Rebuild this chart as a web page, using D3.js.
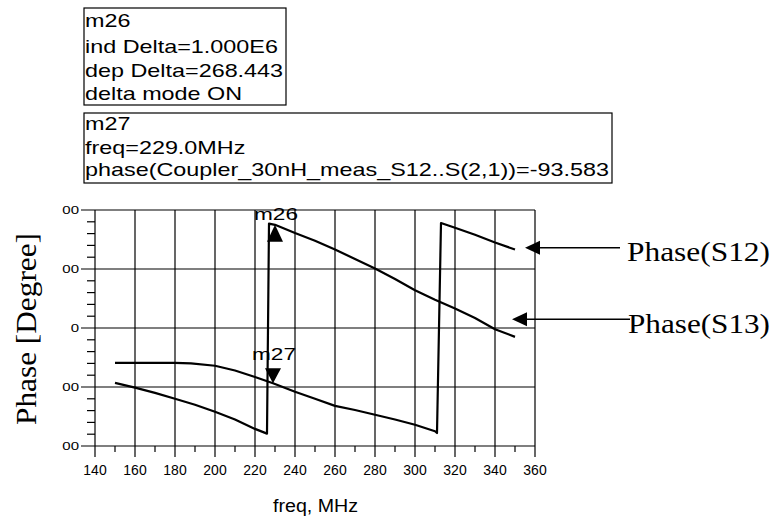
<!DOCTYPE html>
<meta charset="utf-8">
<style>
body { margin: 0; background: #fff; }
svg { display: block; }
.box text, .mk, .tick text, .xlab { font-family: "Liberation Sans", Arial, sans-serif; fill: #000; }
.serif { font-family: "Liberation Serif", "Times New Roman", serif; fill: #000; }
.grid line { stroke: #000; stroke-width: 1.2; }
.curve { fill: none; stroke: #000; stroke-width: 2.2; stroke-linejoin: round; }
</style>
<body>
<script src="https://cdn.jsdelivr.net/npm/d3@7"></script>
<script>
// values
var freqS12 = [150, 160, 170, 180, 188, 200, 210, 220, 229, 240, 250, 260, 270, 280, 290, 300, 310, 311, 313, 320, 330, 340, 350];
var phaseS12 = [-59, -59, -59, -59, -60, -64, -72, -83, -93.6, -108, -120, -132, -139, -147, -155, -164, -175, -178, 178, 170, 158, 145, 133];

var freqS13 = [150, 160, 170, 180, 190, 200, 210, 220, 226, 227, 230, 240, 250, 260, 270, 280, 290, 300, 310, 320, 330, 340, 350];
var phaseS13 = [-93, -101, -110, -120, -130, -142, -155, -171, -179, 177, 174.9, 161, 148, 133, 117, 101, 83, 64, 48, 33, 17, -2, -15];

var xTicks = [140, 160, 180, 200, 220, 240, 260, 280, 300, 320, 340, 360];
var yTicks = [200, 100, 0, -100, -200];
var yTickLabels = ["00", "00", "0", "00", "00"];

var markers = [
  {name: "m26", freq: 230, phase: 174.86, dir: "up"},
  {name: "m27", freq: 229, phase: -93.583, dir: "down"}
];
var box1Lines = ["m26", "ind Delta=1.000E6", "dep Delta=268.443", "delta mode ON"];
var box2Lines = ["m27", "freq=229.0MHz", "phase(Coupler_30nH_meas_S12..S(2,1))=-93.583"];

var width = 775, height = 517;
var svg = d3.select("body").append("svg").attr("width", width).attr("height", height);

var x = d3.scaleLinear().domain([140, 360]).range([95, 535]);
var y = d3.scaleLinear().domain([-200, 200]).range([446, 210]);

// grid
var grid = svg.append("g").attr("class", "grid");
grid.selectAll(".vg").data(xTicks).enter().append("line")
    .attr("x1", function(d) { return x(d); }).attr("x2", function(d) { return x(d); })
    .attr("y1", y(200)).attr("y2", y(-200) + 11);
grid.selectAll(".hg").data(yTicks).enter().append("line")
    .attr("y1", function(d) { return y(d); }).attr("y2", function(d) { return y(d); })
    .attr("x1", x(140) - 14).attr("x2", x(360));

// minor ticks
var xMinor = d3.range(150, 360, 20);
grid.selectAll(".xm").data(xMinor).enter().append("line")
    .attr("x1", function(d) { return x(d); }).attr("x2", function(d) { return x(d); })
    .attr("y1", y(-200)).attr("y2", y(-200) + 6);
var yMinor = d3.range(-180, 200, 20).filter(function(d) { return d % 100 != 0; });
grid.selectAll(".ym").data(yMinor).enter().append("line")
    .attr("y1", function(d) { return y(d); }).attr("y2", function(d) { return y(d); })
    .attr("x1", x(140) - 8).attr("x2", x(140));

// tick labels
svg.append("g").attr("class", "tick").selectAll("text").data(xTicks).enter().append("text")
    .attr("x", function(d) { return x(d); }).attr("y", 475)
    .attr("text-anchor", "middle").style("font-size", "14px")
    .text(function(d) { return d; });
// y labels are squashed flat in the original
svg.append("g").attr("class", "tick").selectAll("text").data(yTicks).enter().append("text")
    .attr("transform", function(d) { return "translate(79," + y(d) + ")scale(1,0.7)"; })
    .attr("y", 5.4)
    .attr("text-anchor", "end").style("font-size", "15px")
    .text(function(d, i) { return yTickLabels[i]; });

svg.append("text").attr("class", "xlab").attr("x", 273).attr("y", 512)
    .style("font-size", "18px").attr("textLength", 85).attr("lengthAdjust", "spacingAndGlyphs")
    .text("freq, MHz");

svg.append("text").attr("class", "serif")
    .attr("transform", "translate(36,329)rotate(-90)")
    .attr("text-anchor", "middle").style("font-size", "29px")
    .attr("textLength", 192).attr("lengthAdjust", "spacingAndGlyphs")
    .text("Phase [Degree]");

// curves
var line = d3.line().x(function(d) { return x(d[0]); }).y(function(d) { return y(d[1]); });
svg.append("path").attr("class", "curve").attr("d", line(d3.zip(freqS12, phaseS12)));
svg.append("path").attr("class", "curve").attr("d", line(d3.zip(freqS13, phaseS13)));

// markers
markers.forEach(function(m) {
  var px = x(m.freq), py = y(m.phase);
  var s = m.dir == "up" ? 1 : -1;
  var h = m.dir == "up" ? 17 : 15;
  svg.append("path")
      .attr("d", "M" + px + "," + py + "L" + (px - 8) + "," + (py + s * h) + "L" + (px + 8) + "," + (py + s * h) + "Z")
      .attr("fill", "#000");
  svg.append("text").attr("class", "mk")
      .attr("x", px - 21)
      .attr("y", m.dir == "up" ? py - 5 : py - 23)
      .style("font-size", "17px").attr("textLength", 44).attr("lengthAdjust", "spacingAndGlyphs")
      .text(m.name);
});

// marker readout boxes (text in the original is stretched wide)
function box(lines, x0, y0, w, h, base, k) {
  var g = svg.append("g").attr("class", "box");
  g.append("rect").attr("x", x0).attr("y", y0).attr("width", w).attr("height", h)
      .attr("fill", "none").attr("stroke", "#000").attr("stroke-width", 1.2);
  g.selectAll("text").data(lines).enter().append("text")
      .attr("x", x0 + 1).attr("y", function(d, i) { return base[i]; })
      .style("font-size", "19px").text(function(d) { return d; })
      .each(function() {
        var n = this.getComputedTextLength();
        d3.select(this).attr("textLength", n * k).attr("lengthAdjust", "spacingAndGlyphs");
      });
  return g;
}
var probe = svg.append("text").style("font-family", "Liberation Sans, Arial, sans-serif")
    .style("font-size", "19px").text(box2Lines[2]);
var k = 524 / probe.node().getComputedTextLength();
probe.remove();
box(box1Lines, 84, 8, 202, 97, [27, 53, 76.5, 99.5], k);
box(box2Lines, 84, 113, 528, 70, [130, 154, 176], k);

// legend arrows
var legend = [
  {label: "Phase(S12)", tipX: x(355), tipY: y(136), x2: 620, tx: 627, ty: 261, w: 143},
  {label: "Phase(S13)", tipX: x(348.5), tipY: y(15), x2: 630, tx: 628, ty: 333, w: 142}
];
legend.forEach(function(l) {
  svg.append("text").attr("class", "serif").attr("x", l.tx).attr("y", l.ty)
      .style("font-size", "28px").attr("textLength", l.w).attr("lengthAdjust", "spacingAndGlyphs")
      .text(l.label);
  svg.append("line").attr("x1", l.tipX + 10).attr("x2", l.x2)
      .attr("y1", l.tipY).attr("y2", l.tipY).attr("stroke", "#000").attr("stroke-width", 1.5);
  svg.append("path")
      .attr("d", "M" + l.tipX + "," + l.tipY + "L" + (l.tipX + 15) + "," + (l.tipY - 7) + "L" + (l.tipX + 15) + "," + (l.tipY + 7) + "Z")
      .attr("fill", "#000");
});
</script>
</body>
